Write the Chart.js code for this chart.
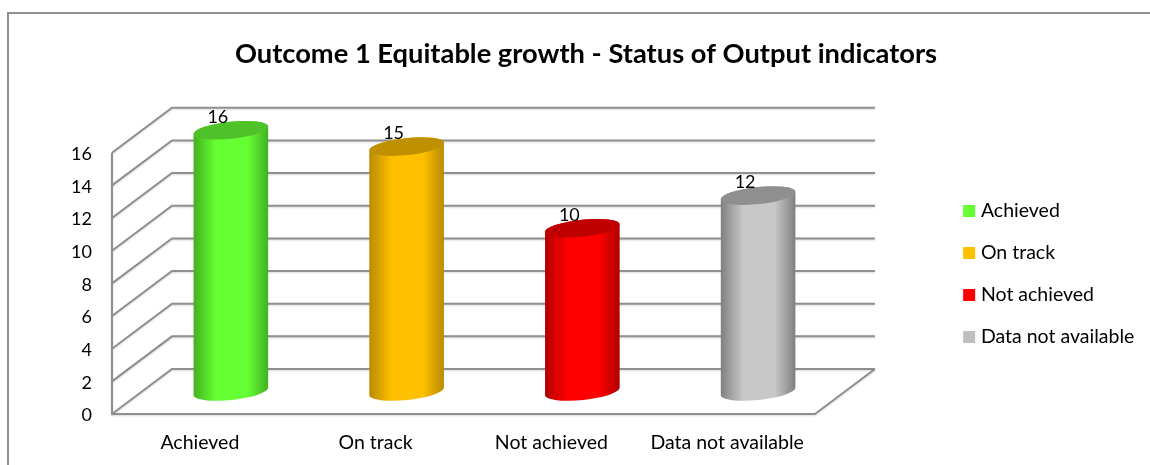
<!DOCTYPE html>
<html>
<head>
<meta charset="utf-8">
<style>
  html, body { margin: 0; padding: 0; background: #fff; }
  canvas { display: block; }
</style>
<script src="https://cdn.jsdelivr.net/npm/chart.js@4"></script>
</head>
<body>
<canvas id="statusChart" width="1150" height="465"></canvas>
<script>
const titleText = 'Outcome 1 Equitable growth - Status of Output indicators';
const categories = ['Achieved', 'On track', 'Not achieved', 'Data not available'];
const seriesValues = [16, 15, 10, 12];
const yTicks = [0, 2, 4, 6, 8, 10, 12, 14, 16];

// body gradient stops per bar: edge, middle, far edge, cap
const barColors = ['#66ff33', '#ffc000', '#ff0000', '#c8c8c8'];
const legendColors = ['#66ff33', '#ffc000', '#ff0000', '#bfbfbf'];
const edgeColors = ['#42b020', '#b88a00', '#b00000', '#7f7f7f'];
const capColors = ['#4fc22a', '#bf9000', '#c00000', '#8f8f8f'];

const LINE = '#8f8f8f';
const DEPTH_X = 60;
const DEPTH_Y = -45;
const TILT = -6 * Math.PI / 180;
const CAP_B = 8.5;

const frame3d = {
    id: 'frame3d',
    afterLayout(chart) {
        // legend rows sit lower than the centre of the canvas in the source
        const legend = chart.legend;
        legend.top += 41.5;
        legend.bottom += 41.5;
        legend.left -= 12;
        legend.right = 1150;
        // y labels sit a little below their gridline ends
        chart.scales.y.getLabelItems().forEach(item => {
            item.options.translation[1] += 1.5;
        });
    },
    beforeDraw(chart) {
        const { ctx, chartArea: a, scales: { y } } = chart;
        ctx.save();
        // outer chart border, cropped at the right and bottom in the source
        ctx.strokeStyle = LINE;
        ctx.lineWidth = 2;
        ctx.beginPath();
        ctx.moveTo(8, 465);
        ctx.lineTo(8, 13);
        ctx.lineTo(1150, 13);
        ctx.stroke();

        ctx.shadowColor = 'rgba(0,0,0,0.15)';
        ctx.shadowBlur = 2;
        ctx.shadowOffsetY = 1;
        ctx.lineWidth = 2;
        yTicks.forEach(v => {
            const py = y.getPixelForValue(v);
            ctx.beginPath();
            ctx.moveTo(a.left, py);
            ctx.lineTo(a.left + DEPTH_X, py + DEPTH_Y);
            ctx.lineTo(a.right + DEPTH_X, py + DEPTH_Y);
            ctx.stroke();
        });
        // left wall edge, floor front and floor right edge
        ctx.beginPath();
        ctx.moveTo(a.left, y.getPixelForValue(16));
        ctx.lineTo(a.left, a.bottom);
        ctx.lineTo(a.right, a.bottom);
        ctx.lineTo(a.right + DEPTH_X, a.bottom + DEPTH_Y);
        ctx.stroke();
        ctx.restore();
    },
    // cylinders replace the flat bars, placed halfway into the depth
    beforeDatasetDraw(chart, args) {
        const { ctx } = chart;
        const meta = chart.getDatasetMeta(args.index);
        meta.data.forEach((bar, i) => {
            const cx = bar.x + DEPTH_X / 2 + 1;
            const top = bar.y + DEPTH_Y / 2;
            const bottom = bar.base + DEPTH_Y / 2;
            const r = bar.width / 2;
            const g = ctx.createLinearGradient(cx - r, 0, cx + r, 0);
            g.addColorStop(0, edgeColors[i]);
            g.addColorStop(0.3, barColors[i]);
            g.addColorStop(0.72, barColors[i]);
            g.addColorStop(1, edgeColors[i]);
            ctx.save();
            ctx.fillStyle = g;
            ctx.beginPath();
            ctx.ellipse(cx, bottom, r, CAP_B, TILT, 0, Math.PI);
            ctx.ellipse(cx, top, r, CAP_B, TILT, Math.PI, Math.PI * 2);
            ctx.closePath();
            ctx.fill();
            ctx.fillStyle = capColors[i];
            ctx.beginPath();
            ctx.ellipse(cx, top, r, CAP_B, TILT, 0, Math.PI * 2);
            ctx.fill();
            ctx.restore();
        });
        return false;
    },
    afterDatasetsDraw(chart) {
        const { ctx } = chart;
        const meta = chart.getDatasetMeta(0);
        ctx.save();
        ctx.fillStyle = '#000';
        ctx.font = '18px Lato';
        ctx.textAlign = 'center';
        ctx.textBaseline = 'middle';
        meta.data.forEach((bar, i) => {
            ctx.fillText(String(seriesValues[i]), bar.x + 18, bar.y - 36);
        });
        ctx.restore();
    }
};

new Chart(document.getElementById('statusChart'), {
    type: 'bar',
    data: {
        labels: categories,
        datasets: [{
            data: seriesValues,
            backgroundColor: barColors,
            barThickness: 75
        }]
    },
    options: {
        responsive: false,
        animation: false,
        layout: { padding: { left: 30, right: 8, top: 0, bottom: 0 } },
        plugins: {
            tooltip: { enabled: false },
            title: {
                display: true,
                text: titleText,
                color: '#000',
                font: { family: 'Lato', size: 27.3, weight: 'bold' },
                padding: { top: 38, bottom: 82 }
            },
            legend: {
                position: 'right',
                labels: {
                    color: '#000',
                    font: { family: 'Lato', size: 19.5 },
                    // small box with a thick same-colour stroke: 12px square, text closer to it
                    boxWidth: 4,
                    boxHeight: 4,
                    padding: 22.5,
                    generateLabels: () => categories.map((c, i) => ({
                        text: c,
                        fillStyle: legendColors[i],
                        strokeStyle: legendColors[i],
                        lineWidth: 8,
                        index: i
                    }))
                }
            }
        },
        scales: {
            x: {
                afterFit: s => { s.height = 51; },
                grid: { display: false },
                border: { display: false },
                ticks: { color: '#000', font: { family: 'Lato', size: 19.5 }, padding: 9, maxRotation: 0 }
            },
            y: {
                min: 0,
                max: 16,
                afterFit: s => { s.width = 82; },
                afterBuildTicks: s => { s.ticks = yTicks.map(v => ({ value: v })); },
                grid: { display: false },
                border: { display: false },
                ticks: { color: '#000', font: { family: 'Lato', size: 18 }, padding: 12 }
            },
            // empty spacer keeps the legend clear of the 3D floor
            gap: {
                position: 'right',
                afterFit: s => { s.width = 141.7; },
                grid: { display: false },
                border: { display: false },
                ticks: { display: false }
            }
        }
    },
    plugins: [frame3d]
});
</script>
</body>
</html>
